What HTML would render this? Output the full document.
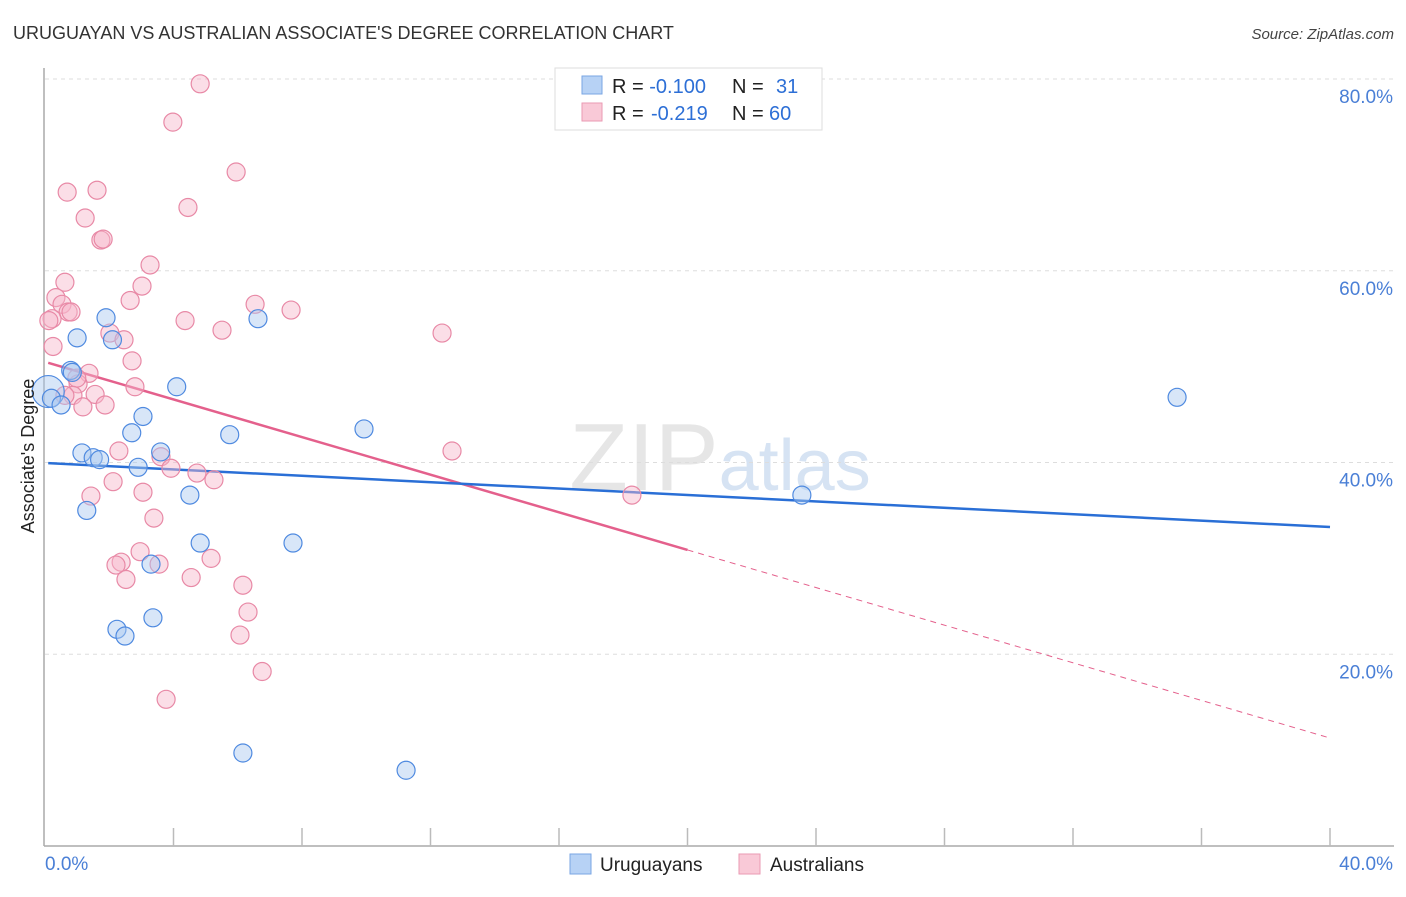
<!DOCTYPE html>
<html><head><meta charset="utf-8"><style>
body{margin:0;background:#fff;font-family:"Liberation Sans",sans-serif;}
svg text{font-family:"Liberation Sans",sans-serif;}
</style></head><body>
<svg id="chart" width="1406" height="892" viewBox="0 0 1406 892">
<text x="13" y="39" font-size="18" fill="#333">URUGUAYAN VS AUSTRALIAN ASSOCIATE'S DEGREE CORRELATION CHART</text>
<text x="1394" y="39" font-size="15" fill="#444" text-anchor="end" font-style="italic">Source: ZipAtlas.com</text>
<text x="720" y="490" font-size="96" fill="#e6e6e6" text-anchor="middle" font-family="Liberation Serif">ZIP<tspan fill="#d6e3f3" font-family="Liberation Sans" font-size="72">atlas</tspan></text>
<g id="grid"></g><g id="axes"></g><g id="lines"></g><g id="pts"></g>
<text transform="translate(34,456) rotate(-90)" font-size="18" fill="#222" text-anchor="middle">Associate's Degree</text>
<g>
<rect x="555" y="68" width="267" height="62" fill="#fff" stroke="#ddd"/>
<rect x="582" y="76" width="20" height="18" fill="#b7d2f5" stroke="#7aa6e3"/>
<rect x="582" y="103" width="20" height="18" fill="#f9c9d7" stroke="#ea9ab3"/>
<text x="612" y="93" font-size="20" fill="#222">R = <tspan fill="#2d6fd6">-0.100</tspan><tspan x="732">N = </tspan><tspan fill="#2d6fd6" x="776">31</tspan></text>
<text x="612" y="120" font-size="20" fill="#222">R = <tspan fill="#2d6fd6" x="651">-0.219</tspan><tspan x="732">N = </tspan><tspan fill="#2d6fd6" x="769">60</tspan></text>
</g>
<g>
<rect x="570" y="854" width="21" height="20" fill="#b7d2f5" stroke="#7aa6e3"/>
<text x="600" y="871" font-size="19" fill="#222">Uruguayans</text>
<rect x="739" y="854" width="21" height="20" fill="#f9c9d7" stroke="#ea9ab3"/>
<text x="770" y="871" font-size="19" fill="#222">Australians</text>
</g>
</svg>
<script>
const xTicks=[0,4,8,12,16,20,24,28,32,36,40];
const yTicks=[20,40,60,80];
const blueX=[0.1,0.2,0.5,0.8,1.0,1.9,2.1,0.85,3.05,2.7,1.15,1.5,1.7,2.9,3.6,4.1,5.75,6.63,4.51,1.3,9.93,4.83,7.72,3.3,2.24,2.49,3.36,6.16,11.24,23.56,35.24];
const blueY=[47.4,46.7,46.0,49.6,53.0,55.1,52.8,49.4,44.8,43.1,41.0,40.5,40.3,39.5,41.1,47.9,42.9,55.0,36.6,35.0,43.5,31.6,31.6,29.4,22.6,21.9,23.8,9.7,7.9,36.6,46.8];
const blueR=[16,9,9,9,9,9,9,9,9,9,9,9,9,9,9,9,9,9,9,9,9,9,9,9,9,9,9,9,9,9,9];
const pinkX=[4.83,3.98,5.95,4.45,0.69,1.62,1.25,1.74,1.81,3.27,0.62,0.34,0.53,0.72,0.81,0.22,0.12,2.65,3.02,2.02,2.46,4.36,5.51,6.54,7.66,12.36,0.25,2.71,1.37,1.03,0.99,2.80,1.56,0.87,1.18,1.87,0.62,2.30,3.61,3.92,4.73,5.26,12.67,18.27,1.43,2.12,3.05,3.39,2.96,2.37,2.21,3.55,2.52,4.55,5.17,6.16,6.32,6.07,6.76,3.77];
const pinkY=[79.5,75.5,70.3,66.6,68.2,68.4,65.5,63.2,63.3,60.6,58.8,57.2,56.5,55.7,55.7,55.0,54.8,56.9,58.4,53.5,52.8,54.8,53.8,56.5,55.9,53.5,52.1,50.6,49.3,48.2,48.8,47.9,47.1,47.0,45.8,46.0,47.0,41.2,40.6,39.4,38.9,38.2,41.2,36.6,36.5,38.0,36.9,34.2,30.7,29.6,29.3,29.4,27.8,28.0,30.0,27.2,24.4,22.0,18.2,15.3];
const fitB=[39.95,33.27]; // y at x=0 and x=40
const fitP=[50.5,11.26];
const X=v=>45+v*32.125, Y=v=>846-v*9.5875;
const NS='http://www.w3.org/2000/svg';
function mk(p,t,a){const e=document.createElementNS(NS,t);for(const k in a)e.setAttribute(k,a[k]);document.getElementById(p).appendChild(e);return e;}
for(const t of yTicks){
 const g=mk('grid','line',{x1:45,x2:1394,y1:Y(t),y2:Y(t),stroke:'#ddd','stroke-dasharray':'4,4'});
 
 
 const l=mk('axes','text',{x:1393,y:Y(t)+24,'font-size':19,fill:'#4a7fd6','text-anchor':'end'});
 l.textContent=t.toFixed(1)+'%';
 
 
}
let a=mk('axes','line',{x1:44,x2:44,y1:68,y2:846,stroke:'#aaa','stroke-width':1.5});


a=mk('axes','line',{x1:44,x2:1394,y1:846,y2:846,stroke:'#aaa','stroke-width':1.5});


for(const t of xTicks){if(t===0)continue;
 const k=mk('axes','line',{x1:X(t),x2:X(t),y1:828,y2:846,stroke:'#bbb','stroke-width':1.5});
 
 }
let tl=mk('axes','text',{x:45,y:870,'font-size':19,fill:'#4a7fd6'});tl.textContent=xTicks[0].toFixed(1)+'%';


tl=mk('axes','text',{x:1393,y:870,'font-size':19,fill:'#4a7fd6','text-anchor':'end'});tl.textContent=xTicks[xTicks.length-1].toFixed(1)+'%';


function pts(xs,ys,fill,stroke,name,rs){xs.forEach((x,i)=>{const c=mk('pts','circle',{cx:X(x),cy:Y(ys[i]),r:rs?rs[i]:9,fill:fill,'fill-opacity':0.45,stroke:stroke,'stroke-width':1.2});
 
 });}
pts(pinkX,pinkY,'#f7b6c9','#e889a6','australians-point');
pts(blueX,blueY,'#a9c8f0','#4f8ae0','uruguayans-point',blueR);
const pf=x=>fitP[0]+(fitP[1]-fitP[0])*x/40, bf=x=>fitB[0]+(fitB[1]-fitB[0])*x/40;
let ln=mk('lines','line',{x1:X(0.1),y1:Y(pf(0.1)),x2:X(20),y2:Y(pf(20)),stroke:'#e4608c','stroke-width':2.5});


ln=mk('lines','line',{x1:X(20),y1:Y(pf(20)),x2:X(40),y2:Y(pf(40)),stroke:'#e4608c','stroke-width':1,'stroke-dasharray':'6,5'});


ln=mk('lines','line',{x1:X(0.1),y1:Y(bf(0.1)),x2:X(40),y2:Y(bf(40)),stroke:'#2a6fd6','stroke-width':2.5});


</script>
</body></html>
